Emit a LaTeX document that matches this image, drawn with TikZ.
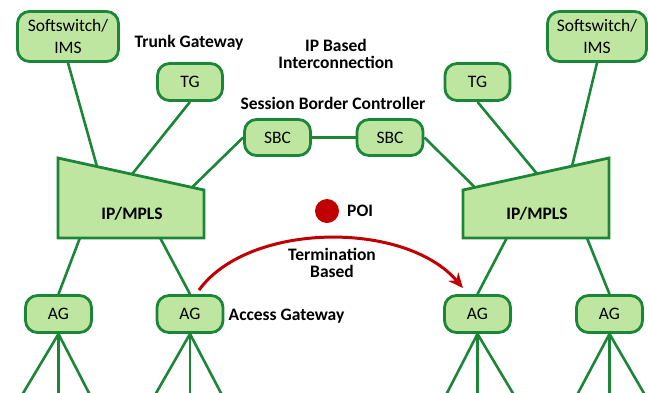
\documentclass[tikz,border=0pt]{standalone}
\usepackage{fontspec}
\setmainfont{Carlito}
\usetikzlibrary{arrows.meta,calc}
\definecolor{gfill}{HTML}{BFE6A0}
\definecolor{gline}{HTML}{1C8638}
\definecolor{poired}{HTML}{C00000}
\begin{document}
\begin{tikzpicture}[x=1pt,y=-1pt,
  box/.style={draw=gline, fill=gfill, line width=2.8pt, rounded corners=12pt, inner sep=0pt,
    font=\fontsize{17.5}{22}\selectfont, align=center},
  conn/.style={draw=gline, line width=2.6pt},
  lbl/.style={font=\fontsize{17.5}{17.5}\selectfont\bfseries, align=center, inner sep=0pt},
  redarc/.style={draw=poired, line width=3pt, -{Stealth[length=15pt,width=13pt]}}]
\useasboundingbox (0,0) rectangle (648,392);

% IP/MPLS trapezoids
\coordinate (mlA) at (58,158);
\coordinate (mlB) at (204,190);
\coordinate (mlC) at (204,238);
\coordinate (mlD) at (58,238);
\coordinate (mrA) at (463,190);
\coordinate (mrB) at (609,158);
\coordinate (mrC) at (609,238);
\coordinate (mrD) at (463,238);
\draw[conn, line width=2.8pt, fill=gfill, line join=miter] (mlA) -- (mlB) -- (mlC) -- (mlD) -- cycle;
\draw[conn, line width=2.8pt, fill=gfill, line join=miter] (mrA) -- (mrB) -- (mrC) -- (mrD) -- cycle;
\node[lbl] (mplsL) at (132,214) {IP/MPLS};
\node[lbl] (mplsR) at (537,214) {IP/MPLS};

% boxes
\node[box, minimum width=101pt, minimum height=50pt] (ssL) at (68,36.5) {Softswitch/\\IMS};
\node[box, minimum width=99pt, minimum height=50pt] (ssR) at (597,36.5) {Softswitch/\\IMS};
\node[box, minimum width=65pt, minimum height=37pt] (tgL) at (190,82) {TG};
\node[box, minimum width=65pt, minimum height=37pt] (tgR) at (477.5,82) {TG};
\node[box, minimum width=66pt, minimum height=36pt] (sbcL) at (277.5,137.5) {SBC};
\node[box, minimum width=66pt, minimum height=36pt] (sbcR) at (390,137.5) {SBC};
\node[box, minimum width=66pt, minimum height=37pt] (agA) at (58.5,314) {AG};
\node[box, minimum width=66pt, minimum height=37pt] (agB) at (190,314) {AG};
\node[box, minimum width=66pt, minimum height=37pt] (agC) at (477.5,314) {AG};
\node[box, minimum width=66pt, minimum height=37pt] (agD) at (609.5,314) {AG};

% edge points on trapezoids
\coordinate (eL1) at ($(mlA)!0.267!(mlB)$);
\coordinate (eL2) at ($(mlA)!0.507!(mlB)$);
\coordinate (eL3) at ($(mlA)!0.918!(mlB)$);
\coordinate (eR1) at ($(mrA)!0.082!(mrB)$);
\coordinate (eR2) at ($(mrA)!0.507!(mrB)$);
\coordinate (eR3) at ($(mrA)!0.747!(mrB)$);
\coordinate (bL1) at ($(mlD)!0.15!(mlC)$);
\coordinate (bL2) at ($(mlD)!0.70!(mlC)$);
\coordinate (bR1) at ($(mrD)!0.30!(mrC)$);
\coordinate (bR2) at ($(mrD)!0.849!(mrC)$);

% connectors top
\draw[conn] (ssL.south) -- (eL1);
\draw[conn] (tgL.south) -- (eL2);
\draw[conn] (sbcL.west) -- (eL3);
\draw[conn] (sbcL.east) -- (sbcR.west);
\draw[conn] (sbcR.east) -- (eR1);
\draw[conn] (tgR.south) -- (eR2);
\draw[conn] (ssR.south) -- (eR3);

% connectors bottom
\draw[conn] (bL1) -- (agA.north);
\draw[conn] (bL2) -- (agB.north);
\draw[conn] (bR1) -- (agC.north);
\draw[conn] (bR2) -- (agD.north);

% fan-out lines
\coordinate (fA1) at (22,395); \coordinate (fA2) at (58.5,395); \coordinate (fA3) at (90,395);
\coordinate (fB1) at (155,395); \coordinate (fB2) at (190,395); \coordinate (fB3) at (222,395);
\coordinate (fC1) at (446,395); \coordinate (fC2) at (477.5,395); \coordinate (fC3) at (514,395);
\coordinate (fD1) at (577,395); \coordinate (fD2) at (609.5,395); \coordinate (fD3) at (645,395);
\foreach \n in {A,B,C,D}{
  \foreach \k in {1,2,3}{
    \draw[conn] (ag\n.south) -- (f\n\k);
  }
}

% labels
\node[lbl] (tgwl) at (189,43) {Trunk Gateway};
\node[lbl] (ipbl) at (336,54) {IP Based\\Interconnection};
\node[lbl] (sbcl) at (333,103) {Session Border Controller};
\node[lbl] (agl) at (286.5,316) {Access Gateway};
\node[lbl] (terml) at (332,263) {Termination\\Based};

% POI
\node[circle, fill=poired, minimum size=24pt, inner sep=0pt] (poi) at (327,211) {};
\node[lbl, anchor=west] (poil) at (347,211) {POI};

% red arc
\draw[redarc] ($(agB.north)+(9,-4)$) .. controls (248,222) and (405,220) .. ($(agC.north)+(-14.5,-6)$);
\end{tikzpicture}
\end{document}
